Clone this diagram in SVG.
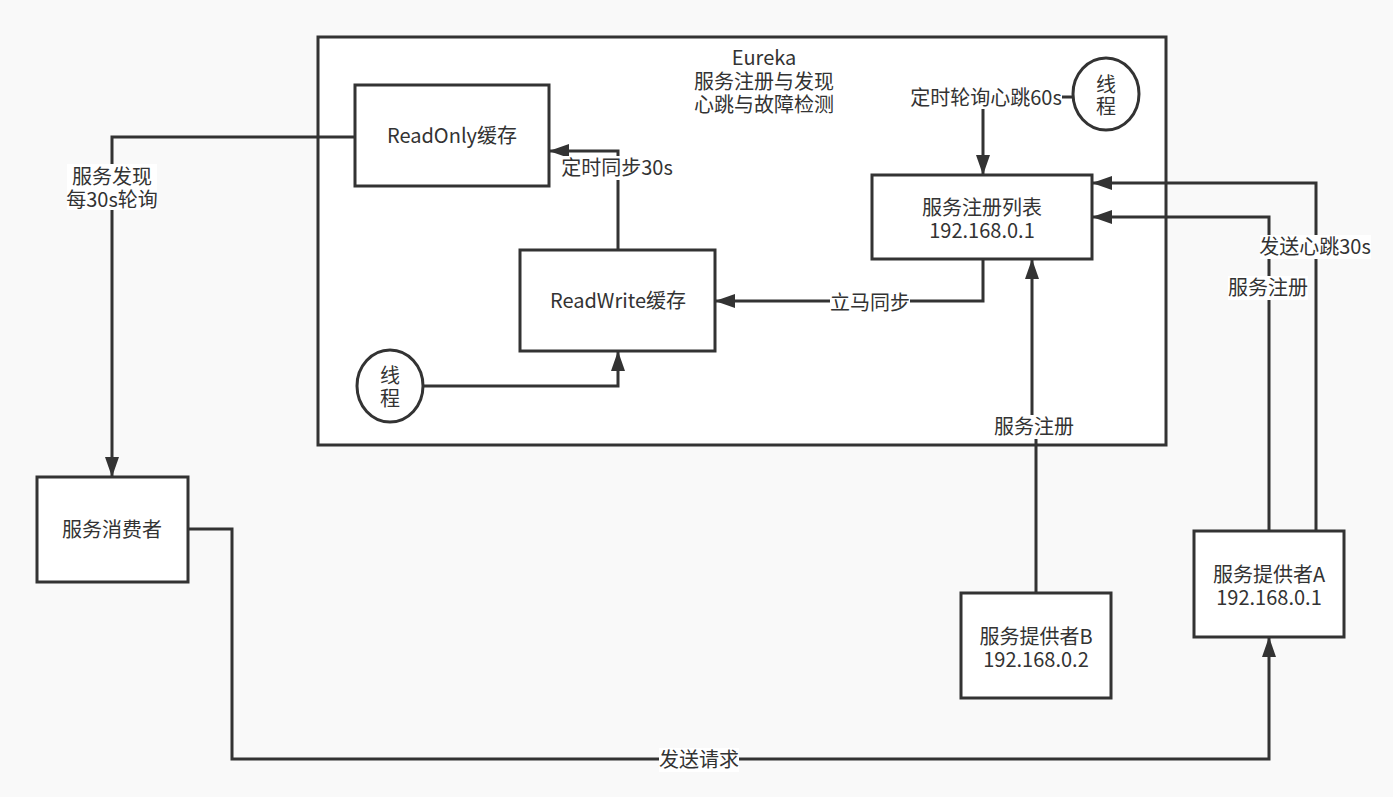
<svg xmlns="http://www.w3.org/2000/svg" width="1393" height="797" viewBox="0 0 1393 797">
<style>
.bg{fill:#f9f9f9}
.box{fill:#ffffff;stroke:#333333;stroke-width:3}
.ln{fill:none;stroke:#333333;stroke-width:3}
.t{font-family:"Noto Sans CJK SC","Noto Sans",sans-serif;font-size:20px;fill:#333333;text-anchor:middle}
.lb{fill:#ffffff}
</style>
<defs>
<marker id="arr" markerUnits="userSpaceOnUse" markerWidth="20" markerHeight="14" refX="19" refY="7" orient="auto">
<path d="M0,0 L20,7 L0,14 z" fill="#333333"/>
</marker>
</defs>
<rect class="bg" x="0" y="0" width="1393" height="797"/>

<g id="eureka">
<rect class="box" x="318" y="37" width="848" height="408"/>
<text class="t" x="764" y="65">Eureka</text>
<text class="t" x="764" y="89">服务注册与发现</text>
<text class="t" x="764" y="112">心跳与故障检测</text>
</g>

<g id="connectors">
<path class="ln" d="M1072,97 L983,97 L983,174" marker-end="url(#arr)"/>
<path class="ln" d="M618,250 L618,151 L550,151" marker-end="url(#arr)"/>
<path class="ln" d="M983,259 L983,301 L716,301" marker-end="url(#arr)"/>
<path class="ln" d="M424,386 L618,386 L618,352" marker-end="url(#arr)"/>
<path class="ln" d="M355,137 L112,137 L112,476" marker-end="url(#arr)"/>
<path class="ln" d="M188,529 L232,529 L232,759 L1269,759 L1269,638" marker-end="url(#arr)"/>
<path class="ln" d="M1036,593 L1036,430 L1032,424 L1032,260" marker-end="url(#arr)"/>
<path class="ln" d="M1316,531 L1316,183 L1093,183" marker-end="url(#arr)"/>
<path class="ln" d="M1269,531 L1269,217 L1093,217" marker-end="url(#arr)"/>

<rect class="lb" x="911" y="85" width="151" height="24"/>
<text class="t" x="986" y="105">定时轮询心跳60s</text>
<rect class="lb" x="561" y="156" width="113" height="24"/>
<text class="t" x="617" y="175">定时同步30s</text>
<rect class="lb" x="830" y="291" width="80" height="24"/>
<text class="t" x="870" y="310">立马同步</text>
<rect class="lb" x="67" y="164" width="90" height="46"/>
<text class="t" x="112" y="184">服务发现</text>
<text class="t" x="112" y="207">每30s轮询</text>
<rect class="lb" x="659" y="748" width="80" height="24"/>
<text class="t" x="699" y="767">发送请求</text>
<rect class="lb" x="994" y="415" width="80" height="24"/>
<text class="t" x="1034" y="434">服务注册</text>
<rect class="lb" x="1260" y="235" width="111" height="24"/>
<text class="t" x="1315" y="254">发送心跳30s</text>
<rect class="lb" x="1228" y="276" width="80" height="24"/>
<text class="t" x="1268" y="295">服务注册</text>
</g>

<g id="readonly">
<rect class="box" x="355" y="85" width="194" height="101"/>
<text class="t" x="452" y="143">ReadOnly缓存</text>
</g>
<g id="readwrite">
<rect class="box" x="520" y="250" width="195" height="101"/>
<text class="t" x="618" y="308">ReadWrite缓存</text>
</g>
<g id="registry">
<rect class="box" x="872" y="175" width="220" height="84"/>
<text class="t" x="982" y="215">服务注册列表</text>
<text class="t" x="982" y="238">192.168.0.1</text>
</g>
<g id="thread1">
<ellipse class="box" cx="1106" cy="94" rx="33" ry="36"/>
<text class="t" x="1106" y="92">线</text>
<text class="t" x="1106" y="114">程</text>
</g>
<g id="thread2">
<ellipse class="box" cx="390" cy="386" rx="33" ry="36"/>
<text class="t" x="390" y="383">线</text>
<text class="t" x="390" y="406">程</text>
</g>
<g id="consumer">
<rect class="box" x="37" y="477" width="151" height="105"/>
<text class="t" x="112" y="537">服务消费者</text>
</g>
<g id="providerB">
<rect class="box" x="961" y="593" width="150" height="105"/>
<text class="t" x="1036" y="644">服务提供者B</text>
<text class="t" x="1036" y="667">192.168.0.2</text>
</g>
<g id="providerA">
<rect class="box" x="1194" y="531" width="150" height="106"/>
<text class="t" x="1269" y="582">服务提供者A</text>
<text class="t" x="1269" y="605">192.168.0.1</text>
</g>
</svg>
